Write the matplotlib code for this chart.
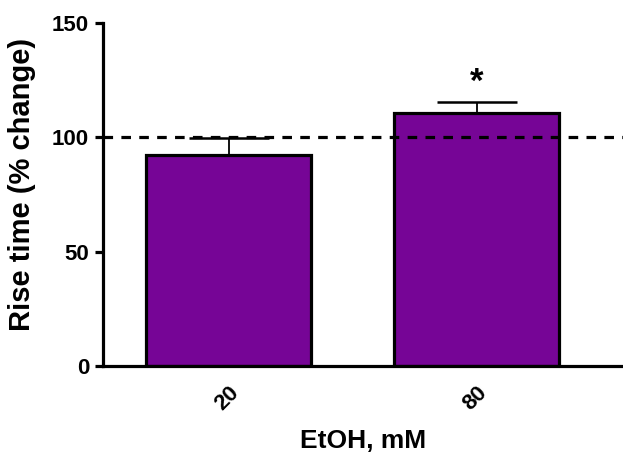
import matplotlib.pyplot as plt

plt.rcParams['font.family'] = ['Liberation Sans', 'DejaVu Sans']

doses = ['20', '80']
rise_time = [92.1, 110.5]
sem = [7.5, 5.0]
stars = ['', '*']

fig = plt.figure(figsize=(6.23, 4.67), dpi=100)
ax = fig.add_axes([0.1653, 0.2163, 0.8347, 0.7344])

x = range(len(doses))
ax.bar(x, rise_time, width=0.665, color='#760596', edgecolor='black', linewidth=2.3, zorder=2)
ax.errorbar(x, rise_time, yerr=[[0, 0], sem], fmt='none', ecolor='black',
            elinewidth=1.3, capsize=29, capthick=1.8, zorder=1)
ax.axhline(100, color='black', linestyle=(0, (3, 2.6)), linewidth=2.3, zorder=3)

for i, s in enumerate(stars):
    if s:
        ax.text(i, rise_time[i] + sem[i] + 1.5, s, ha='center', va='bottom',
                fontsize=25, fontweight='bold')

ax.set_xlim(-0.506, 1.59)
ax.set_ylim(0, 150)
ax.set_yticks([0, 50, 100, 150])
ax.set_xticks(list(x))
ax.set_xticklabels(doses, rotation=45, ha='right', rotation_mode='anchor')
ax.tick_params(axis='x', length=0, pad=12)
ax.tick_params(axis='y', length=6, width=2.3, pad=4)
for lab in ax.get_yticklabels():
    lab.set_fontsize(16)
    lab.set_fontweight('bold')
for lab in ax.get_xticklabels():
    lab.set_fontsize(16)
    lab.set_fontweight('bold')

for side in ['top', 'right']:
    ax.spines[side].set_visible(False)
for side in ['left', 'bottom']:
    ax.spines[side].set_linewidth(2.3)

ax.set_ylabel('Rise time (% change)', fontsize=21, fontweight='bold')
ax.yaxis.set_label_coords(-0.129, 0.53)
ax.set_xlabel('EtOH, mM', fontsize=19, fontweight='bold', labelpad=10)

fig.savefig('out.png', dpi=100)
